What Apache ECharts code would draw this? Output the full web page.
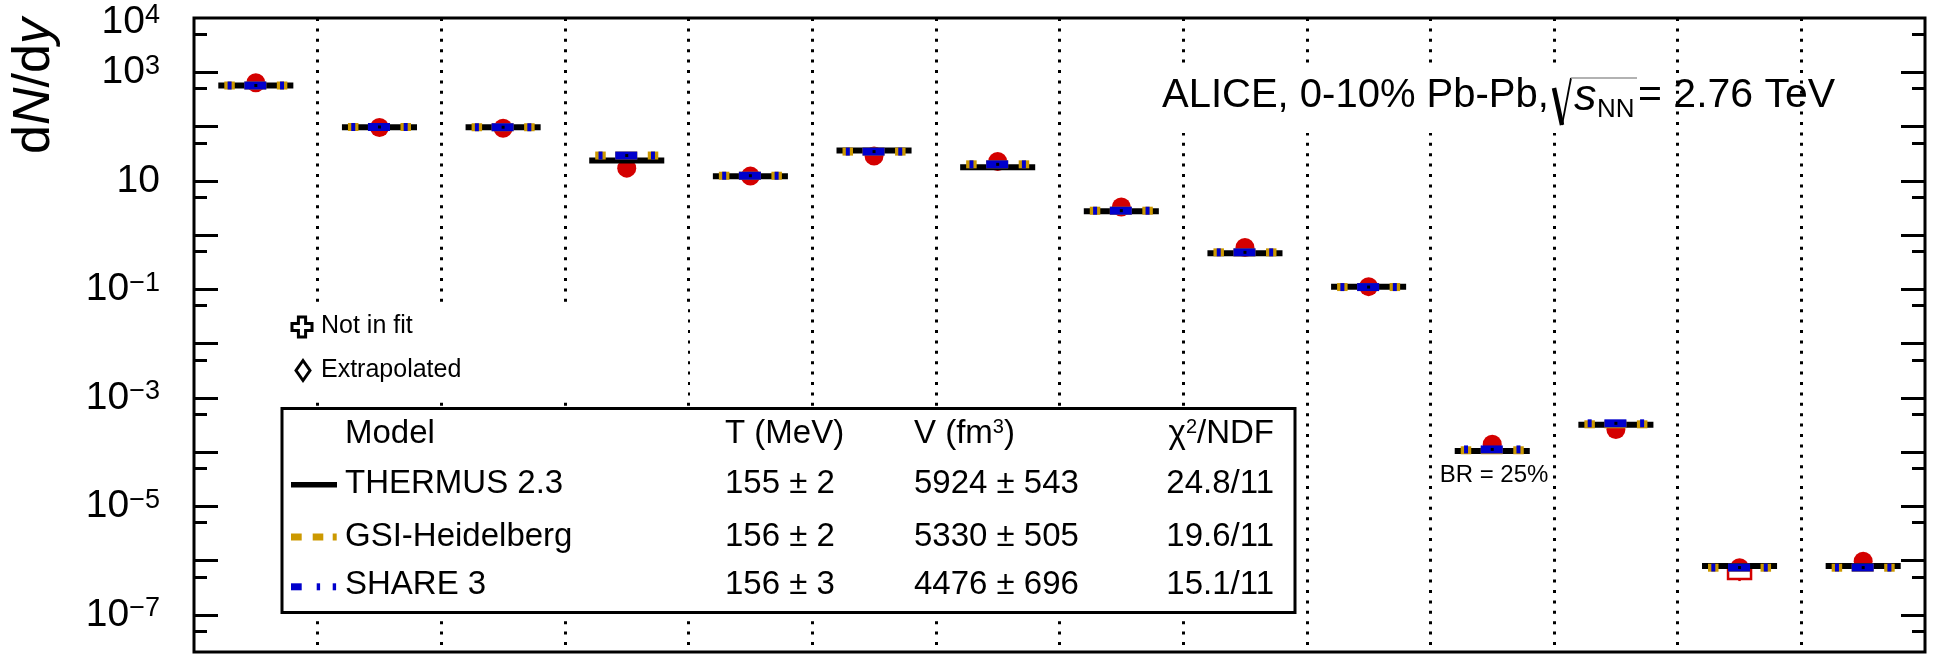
<!DOCTYPE html>
<html>
<head>
<meta charset="utf-8">
<script src="https://cdn.jsdelivr.net/npm/echarts@6/dist/echarts.min.js"></script>
<style>html,body{margin:0;padding:0;background:#fff}#c{width:1934px;height:659px}</style>
</head>
<body>
<div id="c"></div>
<script>
// ---------------- data ----------------
const categories = ['π', 'K', 'K0S', 'K*0', 'φ', 'p', 'Λ', 'Ξ', 'Ω', 'd', '3ΛH', '3He', '4He', 'anti-4He'];
const measured   = [640, 96, 93, 17.1, 12.2, 28.6, 22.6, 3.3, 0.59, 0.112, 1.4e-4, 2.6e-4, 7.4e-7, 9.7e-7];
const thermus    = [569, 97, 97, 23.6, 12.1, 36.1, 17.7, 2.74, 0.46, 0.112, 1.05e-4, 3.18e-4, 8.0e-7, 8.0e-7];
const gsi        = [570, 98, 97, 29.2, 12.4, 34.5, 20.1, 2.81, 0.48, 0.110, 1.08e-4, 3.25e-4, 7.4e-7, 7.4e-7];
const share      = [570, 98, 97, 29.2, 12.4, 34.5, 20.1, 2.81, 0.48, 0.110, 1.12e-4, 3.39e-4, 7.45e-7, 7.45e-7];
// systematic box and stat error (only visible for one point)
const sysLow   = [null, null, null, null, null, null, null, null, null, null, null, null, 4.6e-7, null];
const sysHigh  = [null, null, null, null, null, null, null, null, null, null, null, null, 7.9e-7, null];
const statLow  = [null, null, null, null, null, null, null, null, null, null, null, null, 4.2e-7, null];

const labelTicks = [1e4, 1e3, 10, 1e-1, 1e-3, 1e-5, 1e-7];
const majorTicks = [1e-7, 1e-6, 1e-5, 1e-4, 1e-3, 1e-2, 1e-1, 1, 10, 100, 1e3];
const minorTicks = [5e-8, 5e-7, 5e-6, 5e-5, 5e-4, 5e-3, 5e-2, 5e-1, 5, 50, 500, 5e3];
const yRange = [2.07e-8, 1e4];

const modelNames = ['THERMUS 2.3', 'GSI-Heidelberg', 'SHARE 3'];
const modelT     = ['155 ± 2', '156 ± 2', '156 ± 3'];
const modelV     = ['5924 ± 543', '5330 ± 505', '4476 ± 696'];
const modelChi2  = ['24.8/11', '19.6/11', '15.1/11'];

// ---------------- helpers ----------------
const F = "'Liberation Sans', Arial, Helvetica, sans-serif";
const RED = '#d40000', ORANGE = '#cc9900', BLUE = '#0000cc';
const L = v => Math.log10(v);
const yMin = L(yRange[0]), yMax = L(yRange[1]);

function pts(arr) { return arr.map((v, i) => v == null ? null : [i, L(v)]).filter(d => d); }

function segRender(pieces, h, color, dot) {
  return function (params, api) {
    const c = api.coord([api.value(0), api.value(1)]);
    const band = api.size([1, 0])[0];
    const hw = band * 0.3035;
    const s = hw / 37.5;
    const children = pieces.map(p => ({
      type: 'rect',
      shape: { x: c[0] - hw + p[0] * s, y: c[1] - h / 2, width: (p[1] - p[0]) * s, height: h },
      style: { fill: color }
    }));
    if (dot) children.push({ type: 'rect', shape: { x: c[0] - 1.5, y: c[1] - 1.5, width: 3, height: 3 }, style: { fill: '#000' } });
    return { type: 'group', children };
  };
}

const errData = sysLow.map((v, i) => v == null ? null : [i, L(measured[i]), L(v), L(sysHigh[i]), L(statLow[i])]).filter(d => d);

function errRender(params, api) {
  const i = api.value(0);
  const lo = api.coord([i, api.value(2)]);
  const hi = api.coord([i, api.value(3)]);
  const st = api.coord([i, api.value(4)]);
  return {
    type: 'group',
    children: [
      { type: 'line', shape: { x1: lo[0], y1: lo[1], x2: st[0], y2: st[1] },
        style: { stroke: RED, lineWidth: 2.5 } },
      { type: 'rect', shape: { x: lo[0] - 11.5, y: hi[1], width: 23, height: lo[1] - hi[1] },
        style: { fill: '#fff', stroke: RED, lineWidth: 2.5 } }
    ]
  };
}

function yLabel(v) {
  const e = Math.round(v);
  if (e === 1) return '{b|10}';
  const top = e === 4 ? 't' : '';
  return '{b' + top + '|10}{s' + top + '|' + (e < 0 ? '−' : '') + Math.abs(e) + '}';
}

const tickAxisBase = {
  type: 'value', min: yMin, max: yMax,
  axisLine: { show: false }, splitLine: { show: false }
};

function T(x, y, text, size, extra) {
  return {
    type: 'text', z: 10,
    style: Object.assign({ text, x, y, fill: '#000', fontSize: size, fontFamily: F, align: 'left', verticalAlign: 'middle' }, extra || {})
  };
}

const rowY = [483.6, 536.9, 585.3];
const graphics = [
  // white background behind annotation texts
  { type: 'rect', z: 1, shape: { x: 286, y: 303, width: 402, height: 93 }, style: { fill: '#fff' } },
  { type: 'rect', z: 1, shape: { x: 1150, y: 63, width: 515, height: 70 }, style: { fill: '#fff' } },
  // legend box
  { type: 'rect', z: 1, shape: { x: 282, y: 408.5, width: 1013, height: 204 }, style: { fill: '#fff', stroke: '#000', lineWidth: 3 } },
  // y axis title
  { type: 'text', z: 10, x: 35, y: 86, rotation: Math.PI / 2,
    style: { text: 'd{i|N}/d{i|y}', fill: '#000', fontSize: 52, fontFamily: F, align: 'center', verticalAlign: 'middle',
      rich: { i: { fontSize: 52, fontFamily: F, fontStyle: 'italic', fill: '#000' } } } },
  // not in fit / extrapolated
  { type: 'polygon', z: 10, shape: { points: (function () {
      const cx = 302, cy = 327, r = 10, a = 3.6;
      return [[cx - a, cy - r], [cx + a, cy - r], [cx + a, cy - a], [cx + r, cy - a], [cx + r, cy + a], [cx + a, cy + a],
              [cx + a, cy + r], [cx - a, cy + r], [cx - a, cy + a], [cx - r, cy + a], [cx - r, cy - a], [cx - a, cy - a]];
    })() }, style: { fill: '#fff', stroke: '#000', lineWidth: 3 } },
  T(321, 326.3, 'Not in fit', 25),
  { type: 'polygon', z: 10, shape: { points: [[303, 360.5], [310, 370.5], [303, 380.5], [296, 370.5]] },
    style: { fill: '#fff', stroke: '#000', lineWidth: 3 } },
  T(321, 370.3, 'Extrapolated', 25),
  // legend header
  T(345, 434.3, 'Model', 33),
  T(725, 434.3, 'T (MeV)', 33),
  T(914, 434.3, 'V (fm{sup|3})', 33, { rich: { sup: { fontSize: 20, fontFamily: F, verticalAlign: 'top', fill: '#000' } } }),
  T(1274, 434.3, 'χ{sup|2}/NDF', 33, { align: 'right', rich: { sup: { fontSize: 20, fontFamily: F, verticalAlign: 'top', fill: '#000' } } }),
  // legend samples
  { type: 'rect', z: 10, shape: { x: 291, y: 482, width: 46, height: 5.5 }, style: { fill: '#000' } },
  { type: 'rect', z: 10, shape: { x: 291, y: 533.5, width: 10.7, height: 7 }, style: { fill: ORANGE } },
  { type: 'rect', z: 10, shape: { x: 312.7, y: 533.5, width: 10.6, height: 7 }, style: { fill: ORANGE } },
  { type: 'rect', z: 10, shape: { x: 332.7, y: 533.5, width: 4, height: 7 }, style: { fill: ORANGE } },
  { type: 'rect', z: 10, shape: { x: 291, y: 583.3, width: 10.7, height: 7 }, style: { fill: BLUE } },
  { type: 'rect', z: 10, shape: { x: 316.7, y: 583.3, width: 3.4, height: 7 }, style: { fill: BLUE } },
  { type: 'rect', z: 10, shape: { x: 332.7, y: 583.3, width: 3.4, height: 7 }, style: { fill: BLUE } },
  // ALICE label
  T(1162, 96, 'ALICE, 0-10% Pb-Pb,', 40),
  { type: 'polyline', z: 10, shape: { points: [[1554, 88], [1562, 125]] }, style: { stroke: '#000', lineWidth: 4.5, fill: null } },
  { type: 'polyline', z: 10, shape: { points: [[1562, 125], [1571, 78]] }, style: { stroke: '#000', lineWidth: 1.8, fill: null } },
  { type: 'polyline', z: 10, shape: { points: [[1571, 78], [1637, 78]] }, style: { stroke: '#999', lineWidth: 1.5, fill: null } },
  T(1574, 97, 's', 45, { fontStyle: 'italic' }),
  T(1597, 109.5, 'NN', 26),
  T(1638, 96, '= 2.76 TeV', 41),
  // BR annotation
  T(1494, 475.7, 'BR = 25%', 24, { align: 'center' })
];
for (let k = 0; k < 3; k++) {
  graphics.push(T(345, rowY[k], modelNames[k], 33));
  graphics.push(T(725, rowY[k], modelT[k], 33));
  graphics.push(T(914, rowY[k], modelV[k], 33));
  graphics.push(T(1274, rowY[k], modelChi2[k], 33, { align: 'right' }));
}

const option = {
  backgroundColor: '#fff',
  animation: false,
  grid: { left: 194, top: 18, width: 1731, height: 634, show: true, borderColor: '#000', borderWidth: 3,
          backgroundColor: 'transparent', outerBoundsMode: 'none', containLabel: false },
  xAxis: {
    type: 'category', data: categories, boundaryGap: true,
    axisLine: { show: false }, axisTick: { show: false }, axisLabel: { show: false },
    splitLine: { show: true, interval: 0, showMinLine: false, showMaxLine: false,
                 lineStyle: { color: '#000', width: 3, type: [3, 7.4] } }
  },
  yAxis: [
    Object.assign({}, tickAxisBase, {
      position: 'left',
      axisTick: { show: true, inside: true, length: 24, lineStyle: { color: '#000', width: 3 }, customValues: majorTicks.map(L) },
      axisLabel: { show: true, customValues: labelTicks.map(L), margin: 34, formatter: yLabel,
        rich: { b: { fontSize: 39, fontFamily: F, color: '#000' },
                s: { fontSize: 27, fontFamily: F, color: '#000', verticalAlign: 'top' },
                bt: { fontSize: 39, fontFamily: F, color: '#000', padding: [8, 0, 0, 0] },
                st: { fontSize: 27, fontFamily: F, color: '#000', verticalAlign: 'top', padding: [8, 0, 0, 0] } } }
    }),
    Object.assign({}, tickAxisBase, {
      position: 'left',
      axisTick: { show: true, inside: true, length: 13, lineStyle: { color: '#000', width: 3 }, customValues: minorTicks.map(L) },
      axisLabel: { show: false }
    }),
    Object.assign({}, tickAxisBase, {
      position: 'right',
      axisTick: { show: true, inside: true, length: 24, lineStyle: { color: '#000', width: 3 }, customValues: majorTicks.map(L) },
      axisLabel: { show: false }
    }),
    Object.assign({}, tickAxisBase, {
      position: 'right',
      axisTick: { show: true, inside: true, length: 13, lineStyle: { color: '#000', width: 3 }, customValues: minorTicks.map(L) },
      axisLabel: { show: false }
    })
  ],
  series: [
    { name: 'ALICE data', type: 'scatter', z: 2, symbol: 'circle', symbolSize: 19,
      itemStyle: { color: RED, opacity: 1 }, data: pts(measured) },
    { name: 'sys', type: 'custom', z: 3, clip: false, renderItem: errRender, data: errData },
    { name: modelNames[0], type: 'custom', z: 4, clip: false, renderItem: segRender([[0, 75]], 6, '#000', false), data: pts(thermus) },
    { name: modelNames[1], type: 'custom', z: 5, clip: false, renderItem: segRender([[6, 16.5], [26, 48], [58.5, 69]], 8, ORANGE, false), data: pts(gsi) },
    { name: modelNames[2], type: 'custom', z: 6, clip: false, renderItem: segRender([[9.3, 13.3], [26, 48], [61.7, 65.7]], 8, BLUE, true), data: pts(share) }
  ],
  graphic: { elements: graphics }
};

const chart = echarts.init(document.getElementById('c'), null, { renderer: 'canvas' });
chart.setOption(option);
</script>
</body>
</html>
